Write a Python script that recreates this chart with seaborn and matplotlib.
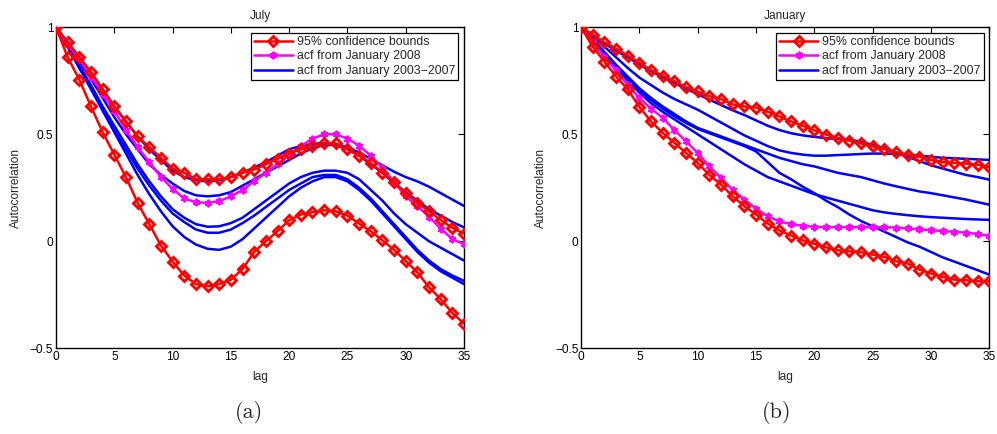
import numpy as np
import pandas as pd
import matplotlib
matplotlib.use("Agg")
import matplotlib.pyplot as plt
import seaborn as sns

lags = list(range(36))

# ---- July panel ----
jul_upper = [1, 0.93, 0.86, 0.79, 0.71, 0.63, 0.56, 0.49, 0.44, 0.39, 0.34, 0.32, 0.29, 0.29, 0.29,
             0.30, 0.32, 0.335, 0.36, 0.385, 0.41, 0.43, 0.444, 0.457, 0.457, 0.43, 0.40, 0.366,
             0.32, 0.276, 0.226, 0.18, 0.14, 0.10, 0.063, 0.035]
jul_lower = [1, 0.86, 0.755, 0.63, 0.51, 0.405, 0.30, 0.18, 0.08, -0.02, -0.095, -0.16, -0.20, -0.21,
             -0.20, -0.18, -0.13, -0.05, 0.0, 0.047, 0.098, 0.125, 0.136, 0.145, 0.14, 0.12, 0.083,
             0.047, 0.005, -0.04, -0.092, -0.145, -0.215, -0.27, -0.335, -0.385]
jul_2008 = [1, 0.92, 0.85, 0.77, 0.69, 0.61, 0.52, 0.44, 0.37, 0.30, 0.245, 0.20, 0.182, 0.18, 0.187,
            0.21, 0.24, 0.28, 0.32, 0.36, 0.405, 0.444, 0.48, 0.50, 0.50, 0.48, 0.447, 0.40, 0.343,
            0.276, 0.21, 0.164, 0.115, 0.058, 0.011, -0.015]
jul_hist = [
    [1, 0.93, 0.86, 0.79, 0.71, 0.63, 0.56, 0.49, 0.43, 0.38, 0.33, 0.30, 0.285, 0.28, 0.285, 0.30,
     0.32, 0.345, 0.37, 0.40, 0.43, 0.445, 0.455, 0.46, 0.455, 0.44, 0.415, 0.385, 0.355, 0.325,
     0.30, 0.28, 0.255, 0.225, 0.195, 0.165],
    [1, 0.92, 0.84, 0.76, 0.67, 0.58, 0.50, 0.43, 0.36, 0.31, 0.27, 0.235, 0.215, 0.21, 0.215, 0.23,
     0.26, 0.29, 0.32, 0.35, 0.38, 0.41, 0.435, 0.45, 0.45, 0.43, 0.40, 0.36, 0.32, 0.27, 0.23,
     0.19, 0.15, 0.12, 0.09, 0.065],
    [1, 0.91, 0.82, 0.73, 0.63, 0.54, 0.45, 0.36, 0.28, 0.21, 0.15, 0.11, 0.08, 0.068, 0.07, 0.085,
     0.11, 0.15, 0.19, 0.23, 0.27, 0.30, 0.32, 0.33, 0.33, 0.32, 0.29, 0.24, 0.19, 0.13, 0.08,
     0.04, 0.0, -0.03, -0.06, -0.09],
    [1, 0.91, 0.81, 0.72, 0.62, 0.52, 0.43, 0.34, 0.26, 0.19, 0.13, 0.09, 0.055, 0.04, 0.04, 0.055,
     0.085, 0.12, 0.16, 0.20, 0.24, 0.27, 0.30, 0.31, 0.31, 0.29, 0.25, 0.20, 0.14, 0.08, 0.02,
     -0.04, -0.09, -0.13, -0.16, -0.185],
    [1, 0.91, 0.81, 0.71, 0.61, 0.51, 0.41, 0.31, 0.22, 0.14, 0.07, 0.02, -0.015, -0.035, -0.04,
     -0.025, 0.01, 0.06, 0.11, 0.16, 0.21, 0.25, 0.28, 0.30, 0.30, 0.28, 0.24, 0.19, 0.13, 0.07,
     0.01, -0.05, -0.10, -0.14, -0.17, -0.20],
]

# ---- January panel ----
jan_upper = [1, 0.966, 0.93, 0.90, 0.868, 0.834, 0.80, 0.774, 0.748, 0.72, 0.70, 0.678, 0.665, 0.64,
             0.63, 0.625, 0.605, 0.584, 0.56, 0.54, 0.519, 0.499, 0.483, 0.47, 0.457, 0.444, 0.43,
             0.416, 0.405, 0.394, 0.38, 0.37, 0.366, 0.363, 0.358, 0.346]
jan_lower = [1, 0.91, 0.84, 0.77, 0.71, 0.628, 0.56, 0.507, 0.46, 0.413, 0.366, 0.31, 0.265, 0.21,
             0.164, 0.125, 0.083, 0.051, 0.027, 0.005, -0.012, -0.028, -0.042, -0.047, -0.051,
             -0.062, -0.073, -0.093, -0.104, -0.132, -0.151, -0.166, -0.179, -0.182, -0.187, -0.187]
jan_2008 = [1, 0.93, 0.86, 0.80, 0.73, 0.67, 0.62, 0.577, 0.52, 0.467, 0.413, 0.35, 0.296, 0.24,
            0.195, 0.153, 0.117, 0.093, 0.08, 0.072, 0.068, 0.066, 0.066, 0.066, 0.066, 0.066,
            0.066, 0.064, 0.06, 0.056, 0.052, 0.048, 0.044, 0.04, 0.034, 0.025]
jan_hist = [
    [1, 0.96, 0.925, 0.89, 0.86, 0.826, 0.795, 0.767, 0.74, 0.713, 0.687, 0.662, 0.637, 0.612, 0.59,
     0.565, 0.54, 0.52, 0.505, 0.495, 0.488, 0.482, 0.478, 0.475, 0.465, 0.45, 0.435, 0.415,
     0.395, 0.375, 0.355, 0.34, 0.325, 0.31, 0.30, 0.288],
    [1, 0.955, 0.91, 0.86, 0.81, 0.765, 0.73, 0.695, 0.665, 0.64, 0.615, 0.585, 0.555, 0.525, 0.495,
     0.47, 0.445, 0.425, 0.413, 0.405, 0.40, 0.40, 0.403, 0.405, 0.408, 0.41, 0.41, 0.408, 0.405,
     0.40, 0.395, 0.39, 0.388, 0.385, 0.383, 0.38],
    [1, 0.945, 0.885, 0.825, 0.77, 0.715, 0.67, 0.63, 0.595, 0.56, 0.53, 0.51, 0.49, 0.47, 0.45,
     0.43, 0.41, 0.39, 0.375, 0.36, 0.35, 0.335, 0.32, 0.31, 0.30, 0.285, 0.27, 0.257, 0.245,
     0.233, 0.225, 0.215, 0.205, 0.195, 0.183, 0.171],
    [1, 0.94, 0.875, 0.81, 0.75, 0.695, 0.645, 0.605, 0.57, 0.535, 0.50, 0.465, 0.43, 0.395, 0.36,
     0.33, 0.30, 0.28, 0.26, 0.24, 0.22, 0.205, 0.19, 0.175, 0.16, 0.145, 0.135, 0.128, 0.122,
     0.117, 0.113, 0.11, 0.107, 0.104, 0.102, 0.10],
    [1, 0.94, 0.88, 0.82, 0.76, 0.705, 0.66, 0.62, 0.585, 0.553, 0.525, 0.505, 0.485, 0.465, 0.445,
     0.42, 0.37, 0.32, 0.29, 0.255, 0.225, 0.19, 0.16, 0.125, 0.095, 0.07, 0.045, 0.02, -0.005,
     -0.025, -0.05, -0.075, -0.095, -0.115, -0.135, -0.156],
]

titles = ["July", "January"]
captions = ["(a)", "(b)"]
legend_labels = ["95% confidence bounds", "acf from January 2008", "acf from January 2003\u22122007"]
xticks = [0, 5, 10, 15, 20, 25, 30, 35]
yticks = [-0.5, 0, 0.5, 1]
yticklabels = ["\u22120.5", "0", "0.5", "1"]

sns.set_theme(style="white")
plt.rcParams["font.family"] = ["Liberation Sans", "DejaVu Sans"]

fig = plt.figure(figsize=(9.97, 4.34), dpi=100)
axes = [fig.add_axes([0.0562, 0.1975, 0.4092, 0.7396]),
        fig.add_axes([0.5828, 0.1975, 0.4095, 0.7396])]
cap_x = [0.474, 0.479]

panels = [(jul_upper, jul_lower, jul_2008, jul_hist), (jan_upper, jan_lower, jan_2008, jan_hist)]

for ax, (up, lo, cur, hist), title, cap, cx in zip(axes, panels, titles, captions, cap_x):
    for i, h in enumerate(hist):
        sns.lineplot(x=lags, y=h, ax=ax, color="#0000ff", linewidth=1.8,
                     label=legend_labels[2] if i == 0 else None, zorder=2)
    sns.lineplot(x=lags, y=cur, ax=ax, color="#ff00ff", linewidth=1.8, marker=(6, 2, 0),
                 markersize=5.5, markeredgewidth=1.4, markeredgecolor="#ff00ff",
                 label=legend_labels[1], zorder=3)
    for i, b in enumerate([up, lo]):
        sns.lineplot(x=lags, y=b, ax=ax, color="#ff0000", linewidth=1.8, marker="D",
                     markersize=5.5, markeredgewidth=2.1, markerfacecolor="none",
                     markeredgecolor="#ff0000",
                     label=legend_labels[0] if i == 0 else None, zorder=4)
    ax.set_xlim(0, 35)
    ax.set_ylim(-0.5, 1)
    ax.set_xticks(xticks)
    ax.set_xticklabels([str(t) for t in xticks])
    ax.set_yticks(yticks)
    ax.set_yticklabels(yticklabels)
    ax.tick_params(direction="in", length=4, width=0.8, top=True, right=True,
                   labelsize=8.6, pad=2, colors="black")
    for s in ax.spines.values():
        s.set_visible(True)
        s.set_color("black")
        s.set_linewidth(1.0)
    ax.set_title(title, fontsize=8.6, pad=6)
    ax.set_xlabel("lag", fontsize=8.6, labelpad=6)
    ax.set_ylabel("Autocorrelation", fontsize=8.6, labelpad=6)
    handles, labels = ax.get_legend_handles_labels()
    order = [labels.index(l) for l in legend_labels]
    leg = ax.legend([handles[k] for k in order], legend_labels, loc="upper right",
                    fontsize=8.9, frameon=True, fancybox=False, framealpha=1,
                    edgecolor="black", borderpad=0.25, labelspacing=0.2,
                    handlelength=3.15, handletextpad=0.35, borderaxespad=0.45)
    leg.get_frame().set_linewidth(0.9)
    ax.text(cx, -0.2015, cap, transform=ax.transAxes, ha="center", va="center",
            fontsize=16, family=["cmr10", "DejaVu Serif"])

fig.savefig("out.png", dpi=100)
